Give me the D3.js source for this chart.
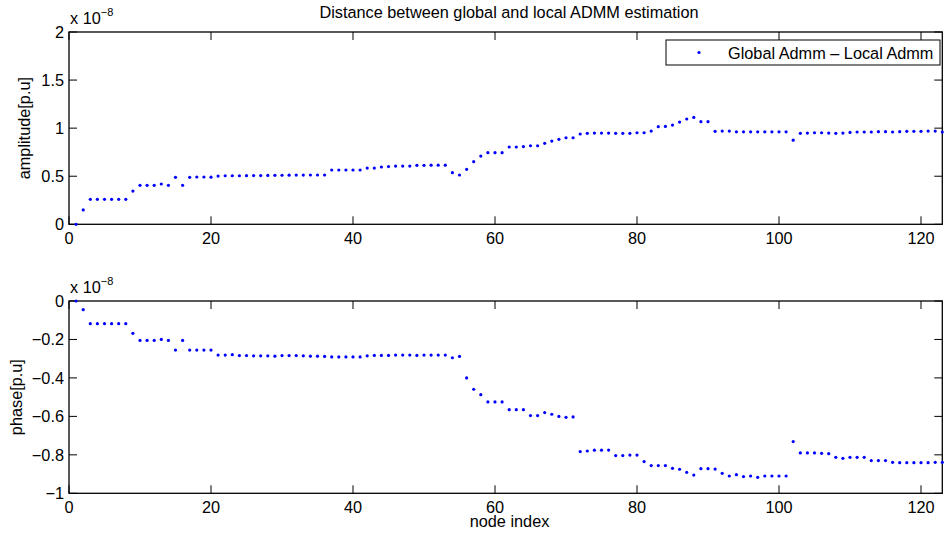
<!DOCTYPE html>
<meta charset="utf-8">
<script src="https://cdnjs.cloudflare.com/ajax/libs/d3/7.8.5/d3.min.js"></script>
<style>
    body { margin: 0; background: #fff; }
    text { font-family: "Liberation Sans", Arial, Helvetica, sans-serif; fill: #000; }
</style>
<div id="base"></div>
<script>
    // values are in units of 1e-8, node index = position + 1
    var amplitude = [
        0, 0.149, 0.26, 0.26, 0.26, 0.26, 0.26, 0.26, 0.346, 0.405,
        0.405, 0.405, 0.419, 0.405, 0.489, 0.405, 0.489, 0.492, 0.492, 0.49,
        0.502, 0.505, 0.505, 0.505, 0.506, 0.507, 0.507, 0.508, 0.509, 0.51,
        0.511, 0.512, 0.512, 0.513, 0.513, 0.513, 0.565, 0.565, 0.565, 0.565,
        0.565, 0.585, 0.585, 0.596, 0.6, 0.606, 0.606, 0.606, 0.613, 0.613,
        0.615, 0.615, 0.615, 0.537, 0.513, 0.572, 0.651, 0.71, 0.745, 0.745,
        0.745, 0.804, 0.804, 0.808, 0.817, 0.817, 0.842, 0.866, 0.884, 0.9,
        0.9, 0.939, 0.946, 0.949, 0.949, 0.949, 0.946, 0.946, 0.946, 0.952,
        0.952, 0.97, 1.015, 1.018, 1.032, 1.063, 1.095, 1.112, 1.067, 1.067,
        0.967, 0.97, 0.97, 0.962, 0.962, 0.962, 0.962, 0.962, 0.962, 0.962,
        0.962, 0.875, 0.946, 0.949, 0.952, 0.952, 0.949, 0.946, 0.949, 0.956,
        0.96, 0.96, 0.96, 0.963, 0.963, 0.96, 0.963, 0.967, 0.967, 0.967,
        0.97, 0.97, 0.96
    ];

    var phase = [
        0, -0.045, -0.118, -0.118, -0.118, -0.118, -0.118, -0.118, -0.168, -0.205,
        -0.205, -0.205, -0.2, -0.205, -0.255, -0.205, -0.255, -0.255, -0.255, -0.255,
        -0.281, -0.281, -0.279, -0.284, -0.284, -0.285, -0.285, -0.285, -0.287, -0.284,
        -0.284, -0.284, -0.285, -0.287, -0.287, -0.288, -0.291, -0.291, -0.291, -0.291,
        -0.291, -0.285, -0.283, -0.283, -0.283, -0.281, -0.281, -0.281, -0.283, -0.281,
        -0.281, -0.281, -0.281, -0.295, -0.288, -0.4, -0.459, -0.487, -0.525, -0.525,
        -0.525, -0.565, -0.565, -0.565, -0.596, -0.596, -0.58, -0.589, -0.6, -0.605,
        -0.603, -0.783, -0.78, -0.776, -0.776, -0.775, -0.804, -0.804, -0.801, -0.801,
        -0.835, -0.856, -0.856, -0.856, -0.87, -0.875, -0.891, -0.905, -0.872, -0.872,
        -0.874, -0.896, -0.91, -0.903, -0.913, -0.91, -0.917, -0.91, -0.91, -0.91,
        -0.91, -0.731, -0.79, -0.79, -0.79, -0.792, -0.794, -0.813, -0.818, -0.813,
        -0.813, -0.813, -0.83, -0.83, -0.83, -0.839, -0.841, -0.841, -0.841, -0.841,
        -0.841, -0.839, -0.839
    ];

    var xTicks = [0, 20, 40, 60, 80, 100, 120];
    var ampTicks = [0, 0.5, 1, 1.5, 2];
    var phaseTicks = [-1, -0.8, -0.6, -0.4, -0.2, 0];
    var titleText = "Distance between global and local ADMM estimation";
    var legendText = "Global Admm \u2013 Local Admm";

    var W = 945, H = 541;
    var left = 69, right = 942.3;
    var tickLen = 8;
    var fs = "16.3px";

    var svg = d3.select("#base")
        .append("svg")
        .attr("width", W)
        .attr("height", H);

    var x = d3.scaleLinear().domain([0, 123]).range([left, right]);

    function fmt(v) {
        return v === 0 ? "0" : String(v).replace("-", "\u2212");
    }

    function drawPanel(data, top, bottom, yDomain, yTicks, ylabel, ylabelX) {
        var y = d3.scaleLinear().domain(yDomain).range([bottom, top]);
        var g = svg.append("g");

        // tick labels
        g.selectAll(".xl").data(xTicks).enter().append("text")
            .attr("x", function (d) { return x(d); })
            .attr("y", bottom + 20)
            .attr("text-anchor", "middle")
            .attr("font-size", fs)
            .text(function (d) { return d; });

        g.selectAll(".yl").data(yTicks).enter().append("text")
            .attr("x", left - 5)
            .attr("y", function (d) { return y(d) + 6; })
            .attr("text-anchor", "end")
            .attr("font-size", fs)
            .text(fmt);

        // ticks, inward on all four sides
        var tk = g.append("g").attr("stroke", "#000").attr("stroke-width", 1);
        xTicks.forEach(function (t) {
            tk.append("line").attr("x1", x(t)).attr("x2", x(t)).attr("y1", bottom).attr("y2", bottom - tickLen);
            tk.append("line").attr("x1", x(t)).attr("x2", x(t)).attr("y1", top).attr("y2", top + tickLen);
        });
        yTicks.forEach(function (t) {
            tk.append("line").attr("x1", left).attr("x2", left + tickLen).attr("y1", y(t)).attr("y2", y(t));
            tk.append("line").attr("x1", right).attr("x2", right - tickLen).attr("y1", y(t)).attr("y2", y(t));
        });

        // box
        g.append("rect")
            .attr("x", left).attr("y", top)
            .attr("width", right - left).attr("height", bottom - top)
            .attr("fill", "none").attr("stroke", "#000").attr("stroke-width", 1.3);

        // dots
        g.append("g").selectAll("circle").data(data).enter().append("circle")
            .attr("cx", function (d, i) { return x(i + 1); })
            .attr("cy", function (d) { return y(d); })
            .attr("r", 1.6)
            .attr("fill", "#0000ff");

        // exponent label
        var ex = g.append("text").attr("x", left + 1).attr("y", top - 8).attr("font-size", fs);
        ex.append("tspan").text("x 10");
        ex.append("tspan").attr("dy", -8).attr("font-size", "11px").text("\u22128");

        // y label
        g.append("text")
            .attr("transform", "translate(" + ylabelX + "," + ((top + bottom) / 2) + ") rotate(-90)")
            .attr("text-anchor", "middle")
            .attr("font-size", fs)
            .text(ylabel);

        return y;
    }

    drawPanel(amplitude, 32, 224.3, [0, 2], ampTicks, "amplitude[p.u]", 30);
    drawPanel(phase, 301, 493.3, [-1, 0], phaseTicks, "phase[p.u]", 22);

    // title
    svg.append("text")
        .attr("x", 509)
        .attr("y", 18)
        .attr("text-anchor", "middle")
        .attr("font-size", fs)
        .text(titleText);

    // x label
    svg.append("text")
        .attr("x", 509.5)
        .attr("y", 527)
        .attr("text-anchor", "middle")
        .attr("font-size", fs)
        .text("node index");

    // legend
    var lg = svg.append("g");
    lg.append("rect")
        .attr("x", 666).attr("y", 40)
        .attr("width", 274).attr("height", 25)
        .attr("fill", "#fff").attr("stroke", "#000").attr("stroke-width", 1);
    lg.append("circle").attr("cx", 699).attr("cy", 52.5).attr("r", 1.6).attr("fill", "#0000ff");
    lg.append("text").attr("x", 728).attr("y", 58.5).attr("font-size", fs).text(legendText);
</script>
